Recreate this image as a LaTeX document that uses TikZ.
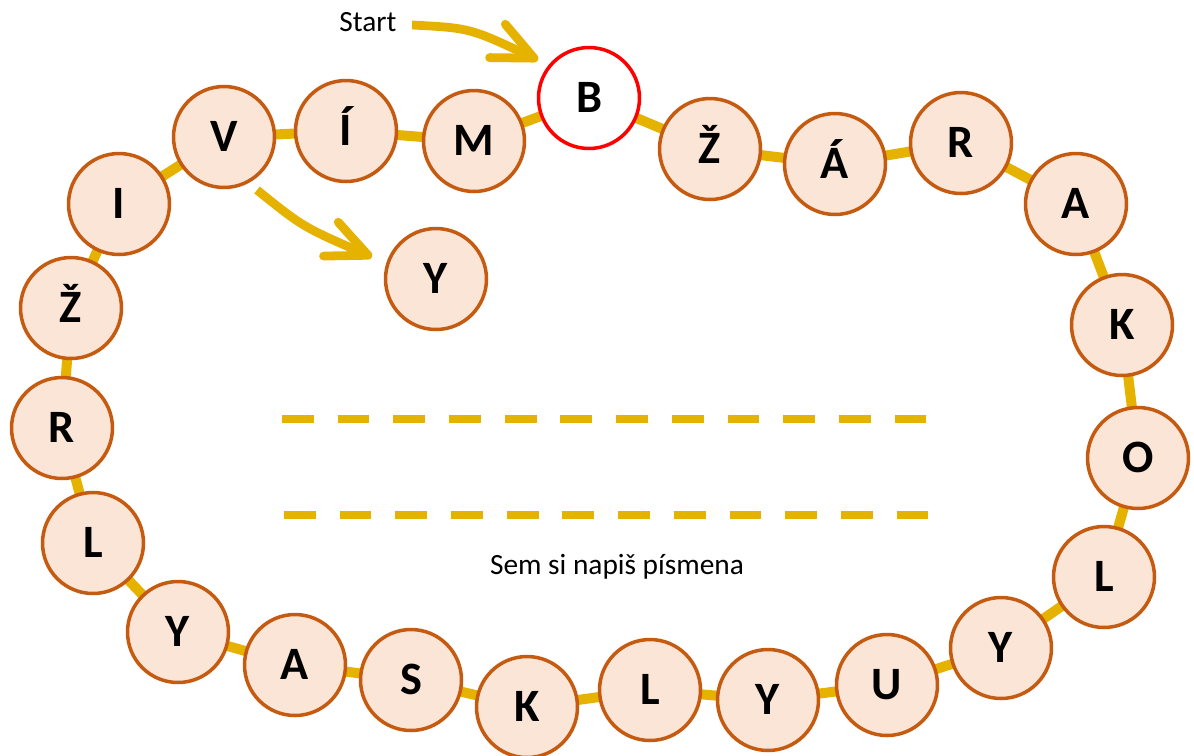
\documentclass[tikz,border=0pt]{standalone}
\usepackage{fontspec}
\setmainfont{Carlito}
\usetikzlibrary{arrows.meta,backgrounds}
\definecolor{peach}{HTML}{FBE5D6}
\definecolor{rust}{HTML}{C55A11}
\definecolor{gold}{HTML}{E6B200}

\begin{document}
\begin{tikzpicture}[x=0.02cm, y=-0.02cm,
    main/.style = {draw=rust, fill=peach, circle, line width=2pt, minimum size=2.02cm, inner sep=0pt,
        text height=17pt, text depth=0pt, font=\fontsize{26.4}{30}\selectfont\bfseries},
    chain/.style = {gold, line width=5.7pt},
    writeline/.style = {gold, line width=4.5pt, dash pattern=on 18.1pt off 13.6pt},
    pointer/.style = {gold, line width=5pt, -{Straight Barb[length=23pt, width=21pt, round]}},
    note/.style = {font=\fontsize{16.7}{20}\selectfont}]
        \useasboundingbox (0,0) rectangle (1194,755);

        \node[main, draw=red, fill=white] (B) at (589,98) {B};
        \node[main] (Z1) at (710,149) {Ž};
        \node[main] (A1) at (835,164) {Á};
        \node[main] (R1) at (961,143) {R};
        \node[main] (A2) at (1076,204) {A};
        \node[main] (K1) at (1122,325) {K};
        \node[main] (O) at (1138,458) {O};
        \node[main] (L1) at (1104,577) {L};
        \node[main] (Y1) at (1001,648) {Y};
        \node[main] (U) at (887,685) {U};
        \node[main] (Y2) at (768,700) {Y};
        \node[main] (L2) at (650,690) {L};
        \node[main] (K2) at (527,707) {K};
        \node[main] (S) at (411,680) {S};
        \node[main] (A3) at (295,665) {A};
        \node[main] (Y3) at (178,632) {Y};
        \node[main] (L3) at (93,543) {L};
        \node[main] (R2) at (62,428) {R};
        \node[main] (Z2) at (71,308) {Ž};
        \node[main] (I1) at (119,204) {I};
        \node[main] (V) at (224,137) {V};
        \node[main] (I2) at (346,131) {Í};
        \node[main] (M) at (474,141) {M};
        \node[main] (Y4) at (436,279) {Y};

        \begin{pgfonlayer}{background}
        \draw[chain] (B.center) -- (Z1.center) -- (A1.center) -- (R1.center) -- (A2.center) -- (K1.center)
            -- (O.center) -- (L1.center) -- (Y1.center) -- (U.center) -- (Y2.center) -- (L2.center)
            -- (K2.center) -- (S.center) -- (A3.center) -- (Y3.center) -- (L3.center) -- (R2.center)
            -- (Z2.center) -- (I1.center) -- (V.center) -- (I2.center) -- (M.center) -- cycle;
        \end{pgfonlayer}

        \node[note] (start) at (368,22) {Start};
        \node[note] (hint) at (617,567) {Sem si napiš písmena};

        \coordinate (s1) at (412,25);
        \coordinate (s2) at (538,60);
        \coordinate (v1) at (257,190);
        \coordinate (v2) at (372,257);
        \draw[pointer] (s1) .. controls (470,28) .. (s2);
        \draw[pointer] (v1) .. controls (303,227) .. (v2);

        \draw[writeline] (282,419) -- (936,419);
        \draw[writeline] (284,515) -- (938,515);
    \end{tikzpicture}
\end{document}
